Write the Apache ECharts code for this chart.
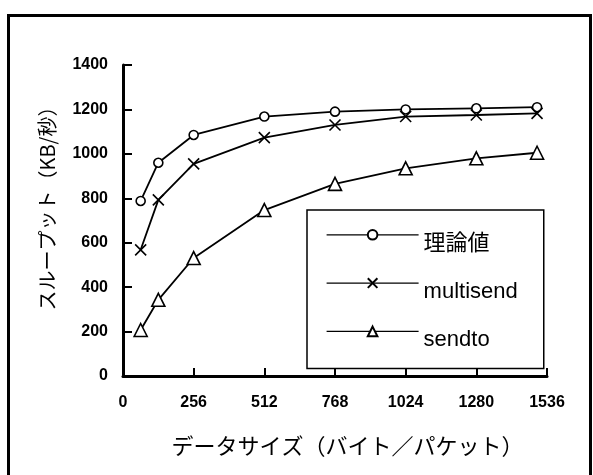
<!DOCTYPE html>
<html lang="ja">
<head>
    <meta charset="UTF-8">
    <script src="https://cdn.jsdelivr.net/npm/echarts@6/dist/echarts.min.js"></script>
    <style>
        html, body { margin: 0; padding: 0; background: #fff; }
    </style>
</head>
<body>

<div id="main" style="width: 593px;height:475px;"></div>

<script type="text/javascript">
    // データサイズ (バイト/パケット)
    var sizes = [64, 128, 256, 512, 768, 1024, 1280, 1500];
    // スループット (KB/秒)
    var theory = [788, 960, 1085, 1168, 1190, 1200, 1205, 1210];
    var multisend = [568, 793, 955, 1073, 1130, 1168, 1175, 1182];
    var sendto = [207, 343, 531, 747, 865, 935, 980, 1005];
    var seriesNames = ['理論値', 'multisend', 'sendto'];

    var xTicks = [0, 256, 512, 768, 1024, 1280, 1536];
    var yTicks = [0, 200, 400, 600, 800, 1000, 1200, 1400];

    function pairs(ys) {
        var out = [];
        for (var i = 0; i < sizes.length; i++) {
            out.push([sizes[i], ys[i]]);
        }
        return out;
    }

    var numFont = "'Liberation Sans', Arial, sans-serif";
    var jpFont = "'Noto Sans CJK JP', 'Liberation Sans', sans-serif";
    var crossPath = 'path://M0,0 L10,10 M10,0 L0,10';

    var myChart = echarts.init(document.getElementById('main'));

    function lineSeries(name, ys, symbol, size) {
        return {
            name: name,
            type: 'line',
            data: pairs(ys),
            symbol: symbol,
            symbolSize: size,
            showAllSymbol: true,
            lineStyle: { color: '#000', width: 1.8 },
            itemStyle: { color: '#fff', borderColor: '#000', borderWidth: 1.6 },
            emphasis: { disabled: true },
            z: 3
        };
    }

    var option = {
        animation: false,
        backgroundColor: '#fff',
        graphic: [{
            // 外枠
            type: 'rect',
            shape: { x: 8.5, y: 15.5, width: 582, height: 480 },
            style: { fill: 'none', stroke: '#000', lineWidth: 3 },
            silent: true
        }],
        grid: { left: 123, right: 46, top: 65, bottom: 99 },
        legend: {
            data: seriesNames,
            orient: 'vertical',
            left: 307,
            top: 210,
            padding: [19, 26, 17, 19],
            itemWidth: 92,
            itemHeight: 12,
            itemGap: 22.5,
            borderColor: '#000',
            borderWidth: 1.5,
            backgroundColor: '#fff',
            lineStyle: { width: 1.2 },
            formatter: function (name) { return '{t|' + name + '}'; },
            textStyle: {
                color: '#000',
                rich: {
                    t: {
                        fontFamily: numFont + ", 'Noto Sans CJK JP'",
                        fontSize: 22,
                        color: '#000',
                        padding: [18, 0, 0, 0]
                    }
                }
            },
            selectedMode: false
        },
        xAxis: {
            type: 'value',
            min: 0,
            max: 1536,
            interval: 256,
            name: 'データサイズ（バイト／パケット）',
            nameLocation: 'middle',
            nameGap: 59,
            nameTextStyle: {
                fontFamily: jpFont,
                fontSize: 22,
                color: '#000',
                padding: [0, 0, 0, 25]
            },
            axisLine: { lineStyle: { color: '#000', width: 3 } },
            axisTick: { inside: true, length: 8, lineStyle: { color: '#000', width: 2 } },
            axisLabel: {
                color: '#000',
                fontFamily: numFont,
                fontWeight: 'bold',
                fontSize: 16,
                margin: 19,
                formatter: function (v) { return xTicks.indexOf(v) >= 0 ? String(v) : ''; }
            },
            splitLine: { show: false }
        },
        yAxis: {
            type: 'value',
            min: 0,
            max: 1400,
            interval: 200,
            name: 'スループット（KB/秒）',
            nameLocation: 'middle',
            nameRotate: 90,
            nameGap: 66,
            nameTextStyle: {
                fontFamily: jpFont,
                fontSize: 20,
                color: '#000',
                padding: [0, 0, 0, 34]
            },
            axisLine: { show: true, lineStyle: { color: '#000', width: 3 } },
            axisTick: { show: true, inside: true, length: 9, lineStyle: { color: '#000', width: 2 } },
            axisLabel: {
                color: '#000',
                fontFamily: numFont,
                fontWeight: 'bold',
                fontSize: 16,
                margin: 15,
                formatter: function (v) { return yTicks.indexOf(v) >= 0 ? String(v) : ''; }
            },
            splitLine: { show: false }
        },
        series: [
            lineSeries(seriesNames[0], theory, 'circle', 9),
            lineSeries(seriesNames[1], multisend, crossPath, 11),
            lineSeries(seriesNames[2], sendto, 'triangle', 13)
        ]
    };

    myChart.setOption(option);
</script>
</body>
</html>
